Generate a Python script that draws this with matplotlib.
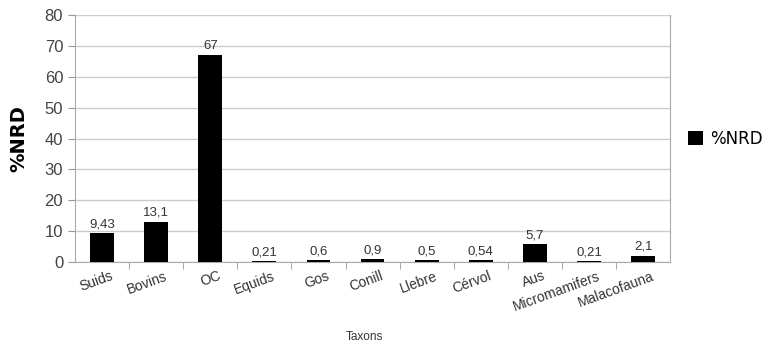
import matplotlib.pyplot as plt
import matplotlib.transforms as mtransforms
from matplotlib import font_manager

# Dades: % NRD per tàxon
taxons = ['Suids', 'Bovins', 'OC', 'Equids', 'Gos', 'Conill', 'Llebre',
          'Cérvol', 'Aus', 'Micromamifers', 'Malacofauna']
nrd = [9.43, 13.1, 67, 0.21, 0.6, 0.9, 0.5, 0.54, 5.7, 0.21, 2.1]
etiquetes = ['9,43', '13,1', '67', '0,21', '0,6', '0,9', '0,5', '0,54', '5,7', '0,21', '2,1']

noms = {f.name for f in font_manager.fontManager.ttflist}
narrow = 'Liberation Sans Narrow' if 'Liberation Sans Narrow' in noms else 'Liberation Sans'
plt.rcParams['font.family'] = [narrow, 'DejaVu Sans']

fig = plt.figure(figsize=(7.73, 3.48), dpi=100)
ax = fig.add_axes([0.097, 0.247, 0.77, 0.71])

x = list(range(len(taxons)))
barres = ax.bar(x, nrd, width=0.44, color='black', label='%NRD', zorder=3)
ax.bar_label(barres, labels=etiquetes, padding=2, fontsize=9.5, color='#333333')

ax.set_xlim(-0.5, len(taxons) - 0.5)
ax.set_ylim(0, 80)
ax.set_yticks(range(0, 81, 10))
ax.tick_params(axis='y', labelsize=12, length=5, color='#999999', labelcolor='#444444')
ax.grid(axis='y', color='#cccccc', linewidth=1, zorder=0)

# marques de l'eix x entre categories
ax.set_xticks([i + 0.5 for i in x[:-1]], minor=True)
ax.set_xticks(x)
ax.tick_params(axis='x', which='major', length=0, pad=5)
ax.tick_params(axis='x', which='minor', length=5, color='#999999')
desplac = mtransforms.ScaledTranslation(8 / 100, 0, fig.dpi_scale_trans)
ax.set_xticklabels(taxons, rotation=20, ha='right', rotation_mode='anchor',
                   fontsize=10, color='#333333')
for lab in ax.get_xticklabels():
    lab.set_transform(lab.get_transform() + desplac)

for s in ['left', 'bottom', 'right']:
    ax.spines[s].set_color('#aaaaaa')
ax.spines['top'].set_visible(False)

ax.set_ylabel('%NRD', fontsize=14, fontweight='bold', family=['DejaVu Sans'], labelpad=12)
fig.text(0.472, 0.032, 'Taxons', fontsize=8.5, ha='center', va='center', color='#333333')

fig.legend(handles=[barres], labels=['%NRD'], loc='center left',
           bbox_to_anchor=(688 / 773, 1 - 139 / 348), frameon=False,
           handlelength=0.9, handleheight=0.9, handletextpad=0.4, borderpad=0,
           borderaxespad=0, prop={'family': ['DejaVu Sans'], 'size': 12})

fig.savefig('out.png', dpi=100)
